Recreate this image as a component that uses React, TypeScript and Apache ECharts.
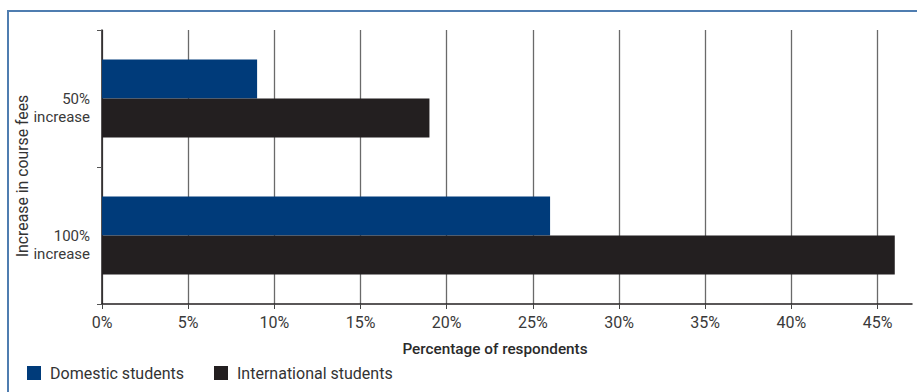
import React, { useEffect, useRef } from "react";
import * as echarts from "echarts";

const categories = ["50%\nincrease", "100%\nincrease"];
const domestic = [9, 26];
const international = [19, 46];
const xTicks = [0, 5, 10, 15, 20, 25, 30, 35, 40, 45];
const seriesNames = ["Domestic students", "International students"];
const xTitle = "Percentage of respondents";
const yTitle = "Increase in course fees";

const FONT = "Roboto, 'Liberation Sans', Arial, sans-serif";

export default function App() {
  const ref = useRef<HTMLDivElement>(null);
  useEffect(() => {
    if (!ref.current) return;
    const chart = echarts.init(ref.current, null, { renderer: "svg" });
    chart.setOption({
      animation: false,
      textStyle: { fontFamily: FONT },
      graphic: [
        {
          type: "line",
          shape: { x1: 8, y1: 11, x2: 917, y2: 11 },
          style: { stroke: "#4f7db0", lineWidth: 2 },
        },
        {
          type: "line",
          shape: { x1: 8, y1: 10, x2: 8, y2: 392 },
          style: { stroke: "#4f7db0", lineWidth: 2 },
        },
        {
          type: "text",
          x: 22,
          y: 176,
          rotation: Math.PI / 2,
          style: {
            text: yTitle,
            fontSize: 15.8,
            fontFamily: FONT,
            fill: "#333",
            align: "center",
            verticalAlign: "middle",
          },
        },
        {
          type: "text",
          x: 495,
          y: 349,
          style: {
            text: xTitle,
            fontSize: 15.3,
            fontWeight: 500,
            fontFamily: FONT,
            fill: "#2a2a2a",
            align: "center",
            verticalAlign: "middle",
          },
        },
      ],
      legend: {
        left: 22,
        top: 360,
        itemWidth: 14,
        itemHeight: 14,
        itemGap: 30,
        icon: "rect",
        textStyle: { fontSize: 16, color: "#333", fontFamily: FONT, padding: [0, 0, 0, 4] },
        data: seriesNames,
      },
      grid: { left: 102, right: 5, top: 30, bottom: 88, containLabel: false },
      xAxis: {
        type: "value",
        min: 0,
        max: 47,
        interval: 5,
        axisLine: { show: true, lineStyle: { color: "#231f20", width: 1.5 } },
        axisTick: { show: true, length: 5, customValues: xTicks, lineStyle: { color: "#444" } },
        axisLabel: {
          customValues: xTicks,
          formatter: "{value}%",
          fontSize: 16,
          color: "#3a3a3a",
          margin: 10,
          fontFamily: FONT,
        },
        splitLine: { show: true, lineStyle: { color: "#6a6a6a", width: 1.3 } },
      },
      yAxis: {
        type: "category",
        inverse: true,
        data: categories,
        axisLine: { show: true, lineStyle: { color: "#231f20", width: 1.5 } },
        axisTick: { show: true, length: 5, alignWithLabel: false, lineStyle: { color: "#555" } },
        axisLabel: {
          fontSize: 15,
          color: "#3a3a3a",
          margin: 12,
          lineHeight: 18,
          align: "right",
          fontFamily: FONT,
          formatter: (v: string) => "{s| }\n" + v,
          rich: { s: { lineHeight: 18, fontSize: 10 } },
        },
      },
      series: [
        {
          name: seriesNames[0],
          type: "bar",
          data: domestic,
          barGap: "0%",
          barCategoryGap: "43%",
          itemStyle: { color: "#003b7a" },
        },
        {
          name: seriesNames[1],
          type: "bar",
          data: international,
          barGap: "0%",
          barCategoryGap: "43%",
          itemStyle: { color: "#231f20" },
        },
      ],
    });
    return () => chart.dispose();
  }, []);
  return <div ref={ref} style={{ width: 917, height: 392, position: "absolute", left: 0, top: 0 }} />;
}
